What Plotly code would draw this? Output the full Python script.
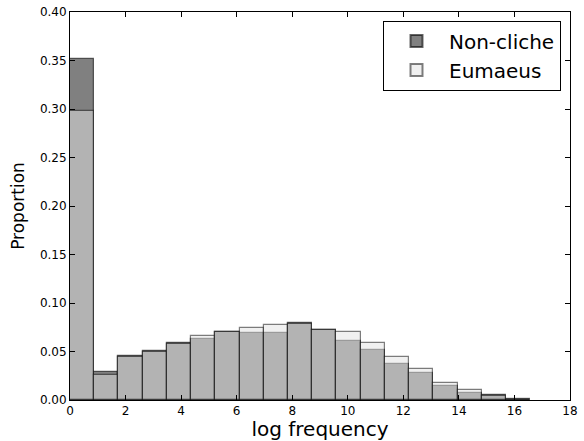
import numpy as np
import plotly.graph_objects as go

bin_width = 0.872
noncliche = [0.3515, 0.0292, 0.0450, 0.0505, 0.0585, 0.0626, 0.0702, 0.0694, 0.0690,
             0.0790, 0.0725, 0.0612, 0.0512, 0.0370, 0.0282, 0.0144, 0.0069, 0.0050, 0.0008]
eumaeus = [0.2980, 0.0258, 0.0442, 0.0500, 0.0580, 0.0656, 0.0700, 0.0742, 0.0777,
           0.0785, 0.0718, 0.0700, 0.0590, 0.0440, 0.0323, 0.0179, 0.0103, 0.0045, 0.0005]
x_ticks = [0, 2, 4, 6, 8, 10, 12, 14, 16, 18]
y_ticks = [0.00, 0.05, 0.10, 0.15, 0.20, 0.25, 0.30, 0.35, 0.40]

centers = (np.arange(len(noncliche)) + 0.5) * bin_width

fig = go.Figure()
fig.add_trace(go.Bar(
    x=centers, y=noncliche, width=bin_width, name="Non-cliche",
    marker=dict(color="#808080", line=dict(color="rgba(0,0,0,0.6)", width=1.2)),
))
fig.add_trace(go.Bar(
    x=centers, y=eumaeus, width=bin_width, name="Eumaeus",
    marker=dict(color="rgba(226,226,226,0.52)", line=dict(color="rgba(0,0,0,0.5)", width=1.2)),
))

font = "DejaVu Sans, Liberation Sans, sans-serif"
fig.update_layout(
    width=584, height=441,
    barmode="overlay", bargap=0,
    paper_bgcolor="white", plot_bgcolor="white",
    margin=dict(l=70, r=14, t=12, b=41, autoexpand=False),
    font=dict(family=font, size=12, color="black"),
    showlegend=True,
    legend=dict(
        x=0.982, y=0.978, xanchor="right", yanchor="top",
        bordercolor="black", borderwidth=1, bgcolor="white",
        font=dict(size=20, family=font),
        itemsizing="constant", tracegroupgap=0, itemwidth=55,
    ),
)
fig.update_xaxes(
    range=[0, 18], tickvals=x_ticks, ticktext=[str(v) for v in x_ticks],
    ticks="inside", ticklen=5, tickcolor="black", mirror="allticks",
    showline=True, linecolor="black", linewidth=1, showgrid=False, zeroline=False,
    title=dict(text="log frequency", font=dict(size=20, family=font), standoff=0),
    tickfont=dict(size=12), automargin=False,
)
fig.update_yaxes(
    range=[0, 0.40], tickvals=y_ticks, ticktext=[f"{v:.2f}" for v in y_ticks],
    ticks="inside", ticklen=5, tickcolor="black", mirror="allticks",
    showline=True, linecolor="black", linewidth=1, showgrid=False, zeroline=False,
    title=dict(text="Proportion", font=dict(size=17, family=font), standoff=10),
    tickfont=dict(size=12), automargin=False,
)

# remove the browser's default 8px body margin so the figure fills the window
fig.write_html("out.html", config={"displayModeBar": False},
               post_script="document.body.style.margin='0';")
